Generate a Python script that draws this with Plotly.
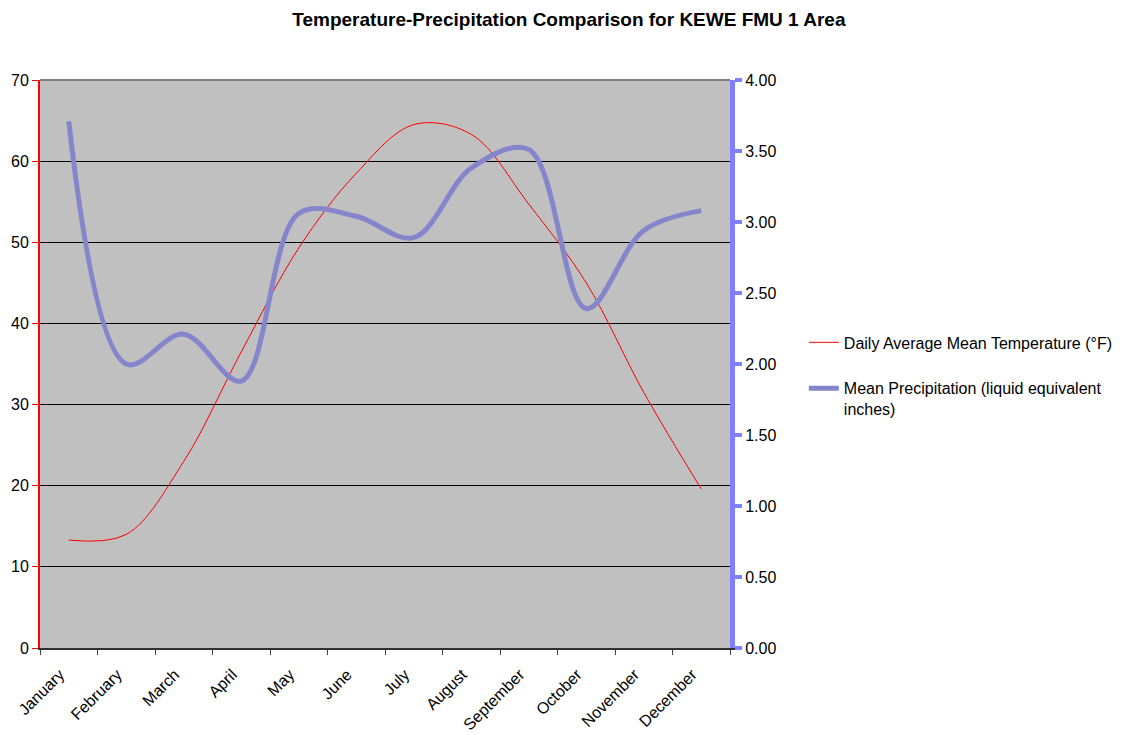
import plotly.graph_objects as go

months = ["January", "February", "March", "April", "May", "June", "July",
          "August", "September", "October", "November", "December"]
temperature = [13.3, 14.0, 23.0, 36.5, 49.3, 58.5, 64.5, 63.3, 54.7, 45.0, 31.5, 19.6]
precipitation = [3.71, 2.00, 2.21, 1.88, 3.06, 3.04, 2.89, 3.38, 3.51, 2.39, 2.94, 3.08]

temp_name = "Daily Average Mean Temperature (°F)"
precip_name = "Mean Precipitation (liquid equivalent<br>inches)"

FONT = "Liberation Sans, Arial, sans-serif"

fig = go.Figure()
fig.add_trace(go.Scatter(
    x=months, y=temperature, name=temp_name, mode="lines", legendgroup="t",
    line=dict(color="#FF0000", width=1, shape="spline", smoothing=1.0),
    yaxis="y"))
fig.add_trace(go.Scatter(
    x=months, y=precipitation, name=precip_name, mode="lines", legendgroup="p",
    line=dict(color="rgb(133,133,204)", width=5, shape="spline", smoothing=1.0),
    yaxis="y2"))

fig.update_layout(
    width=1131, height=735,
    margin=dict(l=40, r=401, t=80, b=87, autoexpand=False),
    paper_bgcolor="white", plot_bgcolor="#C0C0C0",
    font=dict(family=FONT, size=16, color="black"),
    title=dict(text="<b>Temperature-Precipitation Comparison for KEWE FMU 1 Area</b>",
               x=0.503, xanchor="center", xref="container", y=0.973, yanchor="middle",
               font=dict(family=FONT, size=19, color="black"), automargin=False),
    xaxis=dict(type="category", range=[-0.5, 11.5], tickson="boundaries",
               ticks="outside", ticklen=5, tickcolor="#404040", tickwidth=1,
               showline=True, linecolor="#303030", linewidth=2,
               showgrid=False, tickangle=-45, zeroline=False, automargin=False,
               ticklabelstandoff=9, ticklabelshift=-9,
               tickfont=dict(size=16)),
    yaxis=dict(range=[0, 70], dtick=10, showgrid=True, gridcolor="black",
               gridwidth=1, zeroline=False, showline=True, linecolor="#FF0000",
               linewidth=2, ticks="outside", ticklen=6, tickcolor="#FF0000",
               automargin=False, tickfont=dict(size=16)),
    yaxis2=dict(range=[0, 4], dtick=0.5, tickformat=".2f", overlaying="y",
                side="right", showgrid=False, zeroline=False, showline=True,
                linecolor="#8080FF", linewidth=5, ticks="outside", ticklen=7,
                tickwidth=4, tickcolor="#8080FF", automargin=False,
                tickfont=dict(size=16)),
    showlegend=True,
    legend=dict(x=1.107, xanchor="left", y=0.479, yanchor="middle",
                bgcolor="rgba(0,0,0,0)", font=dict(size=16),
                tracegroupgap=22, valign="top"),
)

# gray top border of the plot area
fig.add_shape(type="line", xref="paper", yref="paper", x0=0, x1=1, y0=1, y1=1,
              line=dict(color="#808080", width=2), layer="above")

fig.write_html("out.html", config={"displayModeBar": False},
               post_script="document.body.style.margin='0';document.body.style.overflow='hidden';")
